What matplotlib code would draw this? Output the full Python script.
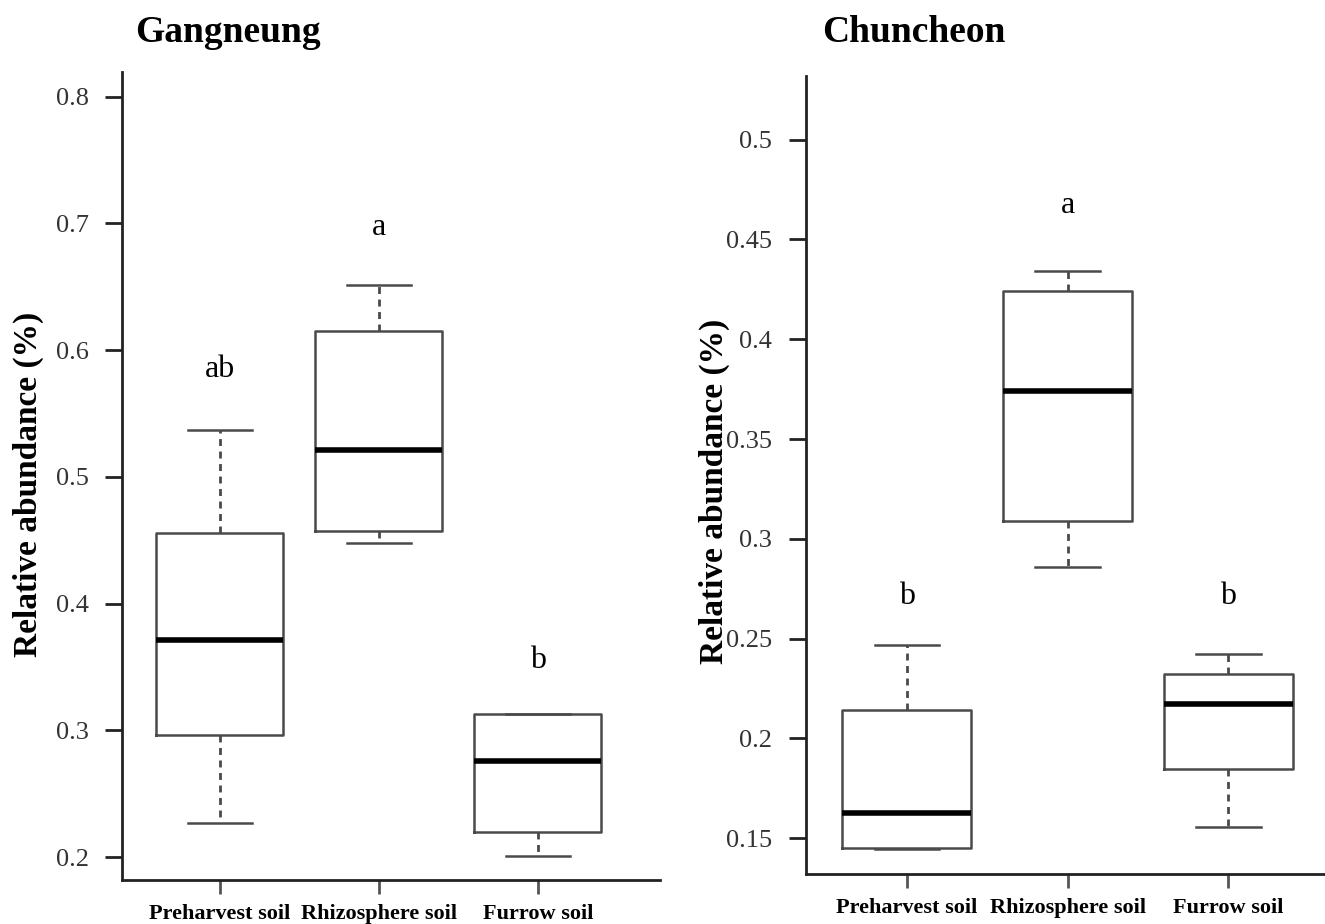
import matplotlib
matplotlib.use("Agg")
from matplotlib import pyplot as plt

plt.rcParams['font.family'] = ['Liberation Serif', 'DejaVu Serif']

groups = ["Preharvest soil", "Rhizosphere soil", "Furrow soil"]

# Gangneung: (low whisker, Q1, median, Q3, high whisker)
gang_low = [0.227, 0.448, 0.201]
gang_q1 = [0.296, 0.457, 0.220]
gang_med = [0.371, 0.521, 0.276]
gang_q3 = [0.456, 0.615, 0.313]
gang_high = [0.537, 0.651, 0.313]
gang_letters = ["ab", "a", "b"]
gang_letter_y = [0.585, 0.697, 0.355]

# Chuncheon
chun_low = [0.1445, 0.286, 0.1555]
chun_q1 = [0.145, 0.309, 0.1846]
chun_med = [0.1625, 0.374, 0.2172]
chun_q3 = [0.214, 0.424, 0.2322]
chun_high = [0.247, 0.434, 0.2423]
chun_letters = ["b", "a", "b"]
chun_letter_y = [0.271, 0.467, 0.271]

gang_ticks = [0.2, 0.3, 0.4, 0.5, 0.6, 0.7, 0.8]
chun_ticks = [0.15, 0.2, 0.25, 0.3, 0.35, 0.4, 0.45, 0.5]
chun_ticklabels = ["0.15", "0.2", "0.25", "0.3", "0.35", "0.4", "0.45", "0.5"]

box_col = "#4a4a4a"


def draw_panel(ax, low, q1, med, q3, high, letters, letter_y, ticks, ticklabels, xlim, ylim):
    stats = []
    for i, g in enumerate(groups):
        stats.append(dict(label=g, whislo=low[i], q1=q1[i], med=med[i],
                          q3=q3[i], whishi=high[i], fliers=[]))
    ax.bxp(stats, positions=[1, 2, 3], widths=0.8, showfliers=False,
           boxprops=dict(color=box_col, linewidth=1.8),
           medianprops=dict(color="black", linewidth=4, solid_capstyle="butt"),
           whiskerprops=dict(color=box_col, linewidth=2, linestyle=(0, (2.5, 2))),
           capprops=dict(color=box_col, linewidth=1.8), capwidths=0.4)
    for i, t in enumerate(letters):
        ax.text(i + 1, letter_y[i], t, ha="center", va="center", fontsize=23)
    ax.set_xlim(*xlim)
    ax.set_ylim(*ylim)
    ax.set_yticks(ticks)
    ax.set_yticklabels(ticklabels, fontsize=19, color="#333333")
    ax.set_xticks([1, 2, 3])
    ax.set_xticklabels(groups, fontsize=16, fontweight="bold")
    ax.tick_params(axis="y", direction="out", length=12, width=2, color="#222222", pad=12)
    ax.tick_params(axis="x", direction="out", length=10, width=2, color="#555555", pad=7)
    for s in ["top", "right"]:
        ax.spines[s].set_visible(False)
    for s in ["left", "bottom"]:
        ax.spines[s].set_linewidth(2)
        ax.spines[s].set_color("#222222")
    ax.set_ylabel("Relative abundance (%)", fontsize=24, fontweight="bold")


fig = plt.figure(figsize=(13.25, 9.24), dpi=100)
ax1 = fig.add_axes([0.092, 0.0476, 0.406, 0.874])
ax2 = fig.add_axes([0.608, 0.054, 0.392, 0.864])

draw_panel(ax1, gang_low, gang_q1, gang_med, gang_q3, gang_high, gang_letters,
           gang_letter_y, gang_ticks, [str(t) for t in gang_ticks],
           (0.384, 3.767), (0.182, 0.819))
draw_panel(ax2, chun_low, chun_q1, chun_med, chun_q3, chun_high, chun_letters,
           chun_letter_y, chun_ticks, chun_ticklabels,
           (0.371, 3.60), (0.132, 0.532))

ax1.yaxis.set_label_coords(-0.145, 0.49)
ax2.yaxis.set_label_coords(-0.146, 0.48)

fig.text(135 / 1325, 1 - 32 / 924, "Gangneung", fontsize=27, fontweight="bold", va="center")
fig.text(822 / 1325, 1 - 32 / 924, "Chuncheon", fontsize=27, fontweight="bold", va="center")

fig.savefig("out.png", dpi=100)
